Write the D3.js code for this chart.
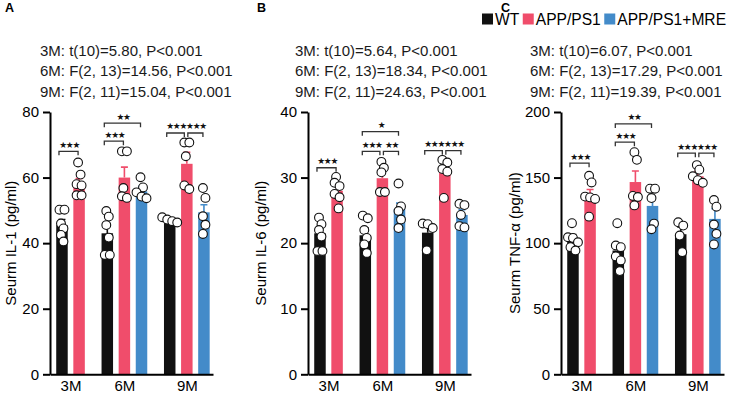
<!DOCTYPE html>
<html>
<head>
<meta charset="utf-8">
<script src="https://cdn.jsdelivr.net/npm/d3@7"></script>
<style>
  body { margin: 0; background: #fff; }
  svg { display: block; font-family: "Liberation Sans", Arial, sans-serif; }
</style>
</head>
<body>
<div id="chart"></div>
<script>
// categories
const groups = ["3M", "6M", "9M"];
const seriesNames = ["WT", "APP/PS1", "APP/PS1+MRE"];
// one entry per bar, in drawing order
const barGroup = ["3M", "3M", "6M", "6M", "6M", "9M", "9M", "9M"];
const barSeries = ["WT", "APP/PS1", "WT", "APP/PS1", "APP/PS1+MRE", "WT", "APP/PS1", "APP/PS1+MRE"];

// IL-1
const il1Mean = [45.5, 58.2, 43.0, 60.0, 55.8, 47.0, 64.2, 49.4];
const il1Sem = [1.7, 1.5, 2.2, 3.2, 1.5, 0.5, 3.5, 2.3];
const il1Dots = [
  [50.2, 50.2, 46.0, 44.5, 42.5, 40.5],
  [64.6, 60.9, 58.0, 57.6, 54.6, 54.6],
  [49.8, 48.1, 45.5, 41.7, 36.4, 36.4],
  [68.0, 68.0, 56.8, 54.3, 53.8],
  [60.1, 57.0, 55.5, 54.2, 53.7],
  [47.9, 47.2, 46.7, 46.3],
  [70.7, 70.7, 66.5, 57.6, 56.5],
  [56.8, 53.8, 48.2, 45.6, 42.8]
];
const il1Ticks = [0, 20, 40, 60, 80];
const il1Stats = ["3M: t(10)=5.80, P<0.001", "6M: F(2, 13)=14.56, P<0.001", "9M: F(2, 11)=15.04, P<0.001"];
const il1Sig = [
  { a: 0, b: 1, level: 68.0, label: "★★★" },
  { a: 2, b: 3, level: 71.1, label: "★★★" },
  { a: 2, b: 4, level: 76.6, label: "★★" },
  { a: 5, b: 6, level: 73.6, label: "★★★" },
  { a: 6, b: 7, level: 73.6, label: "★★★" }
];

// IL-6
const il6Mean = [21.5, 28.0, 21.2, 29.9, 25.2, 21.6, 30.9, 24.3];
const il6Sem = [0.9, 0.8, 1.1, 1.1, 0.9, 1.0, 0.8, 0.8];
const il6Dots = [
  [23.9, 22.9, 22.0, 21.0, 18.8, 18.8],
  [30.1, 29.2, 28.7, 27.5, 27.0, 25.3],
  [24.2, 23.8, 22.0, 20.8, 19.8, 18.5],
  [32.4, 31.5, 30.8, 27.8, 27.8],
  [29.1, 25.6, 24.9, 23.6, 22.3],
  [23.0, 22.9, 22.3, 18.9],
  [32.7, 32.3, 31.3, 30.9, 26.9],
  [26.0, 25.8, 24.3, 22.6, 22.4]
];
const il6Ticks = [0, 10, 20, 30, 40];
const il6Stats = ["3M: t(10)=5.64, P<0.001", "6M: F(2, 13)=18.34, P<0.001", "9M: F(2, 11)=24.63, P<0.001"];
const il6Sig = [
  { a: 0, b: 1, level: 31.5, label: "★★★" },
  { a: 2, b: 3, level: 34.0, label: "★★★" },
  { a: 3, b: 4, level: 34.0, label: "★★" },
  { a: 2, b: 4, level: 37.0, label: "★" },
  { a: 5, b: 6, level: 34.1, label: "★★★" },
  { a: 6, b: 7, level: 34.1, label: "★★★" }
];

// TNF-a
const tnfMean = [103.5, 135.5, 94.4, 146.6, 128.4, 106.8, 151.0, 118.5];
const tnfSem = [3.0, 5.4, 5.0, 8.4, 6.8, 5.6, 3.7, 7.8];
const tnfDots = [
  [115.2, 104.5, 104.0, 100.7, 96.9, 94.4],
  [151.4, 146.3, 135.5, 134.9, 133.7, 120.2],
  [115.2, 98.2, 96.9, 89.9, 86.8, 78.7],
  [169.4, 163.5, 136.0, 135.2, 128.8],
  [141.5, 141.5, 134.4, 114.9, 110.6],
  [115.9, 113.4, 105.8, 93.1],
  [159.5, 156.0, 151.0, 148.0, 146.0],
  [132.9, 127.8, 114.2, 107.1, 99.0]
];
const tnfTicks = [0, 50, 100, 150, 200];
const tnfStats = ["3M: t(10)=6.07, P<0.001", "6M: F(2, 13)=17.29, P<0.001", "9M: F(2, 11)=19.39, P<0.001"];
const tnfSig = [
  { a: 0, b: 1, level: 161.0, label: "★★★" },
  { a: 2, b: 3, level: 177.0, label: "★★★" },
  { a: 2, b: 4, level: 190.9, label: "★★" },
  { a: 5, b: 6, level: 168.6, label: "★★★" },
  { a: 6, b: 7, level: 168.6, label: "★★★" }
];

const width = 729, height = 393;
const font = '"Liberation Sans", Arial, sans-serif';

const svg = d3.select("#chart").append("svg")
  .attr("width", width)
  .attr("height", height);

const color = d3.scaleOrdinal()
  .domain(seriesNames)
  .range(["#111111", "#f04d6b", "#438bc9"]);

// slot index of each bar: one slot per bar, a gap between groups
const groupGap = 0.65;
let slot = -1, prevGroup = null;
const barSlot = barGroup.map(g => {
  slot += (prevGroup !== null && g !== prevGroup) ? 1 + groupGap : 1;
  prevGroup = g;
  return slot;
});
const groupSlot = groups.map(g => d3.mean(barSlot.filter((s, i) => barGroup[i] === g)));

const panels = [
  { letter: "A", letterX: 5, left: 50, statsX: 40, labelX: 16, ylabel: "Seurm IL-1 (pg/ml)",
    mean: il1Mean, sem: il1Sem, dots: il1Dots, ticks: il1Ticks, stats: il1Stats, sig: il1Sig },
  { letter: "B", letterX: 257, left: 308, statsX: 295, labelX: 266, ylabel: "Seurm IL-6 (pg/ml)",
    mean: il6Mean, sem: il6Sem, dots: il6Dots, ticks: il6Ticks, stats: il6Stats, sig: il6Sig },
  { letter: "C", letterX: 501, left: 561, statsX: 530, labelX: 520, ylabel: "Seurm TNF-α (pg/ml)",
    mean: tnfMean, sem: tnfSem, dots: tnfDots, ticks: tnfTicks, stats: tnfStats, sig: tnfSig }
];

// spread dots that sit at nearly the same height side by side
function spread(vals, y) {
  const order = vals.map((v, i) => i).sort((a, b) => vals[b] - vals[a]);
  const off = new Array(vals.length).fill(0);
  let cluster = [], single = 0;
  const flush = () => {
    if (cluster.length === 1) {
      off[cluster[0]] = (single++ % 2 ? 1.5 : -1);
    } else {
      cluster.forEach((k, j) => off[k] = (j - (cluster.length - 1) / 2) * 5);
    }
    cluster = [];
  };
  order.forEach(k => {
    const last = cluster[cluster.length - 1];
    if (cluster.length && Math.abs(y(vals[k]) - y(vals[last])) > 4.5) flush();
    cluster.push(k);
  });
  flush();
  return off;
}

function drawPanel(p) {
  const y = d3.scaleLinear()
    .domain([0, d3.max(p.ticks)])
    .range([374.3, 112]);
  const x = d3.scaleLinear()
    .domain([-0.7, 8.83])
    .range([p.left, p.left + 163]);
  const bw = 11.5;

  const g = svg.append("g");

  // bars
  g.selectAll("rect.bar")
    .data(p.mean)
    .join("rect")
      .attr("class", "bar")
      .attr("x", (d, i) => x(barSlot[i]) - bw / 2)
      .attr("y", d => y(d))
      .attr("width", bw)
      .attr("height", d => y(0) - y(d))
      .attr("fill", (d, i) => color(barSeries[i]));

  // error bars (upper SEM only)
  g.selectAll("path.err")
    .data(p.mean)
    .join("path")
      .attr("class", "err")
      .attr("d", (d, i) => {
        const cx = x(barSlot[i]), top = y(d + p.sem[i]);
        return `M${cx},${y(d)}V${top}M${cx - 3.5},${top}H${cx + 3.5}`;
      })
      .attr("stroke", (d, i) => color(barSeries[i]))
      .attr("stroke-width", 1.6)
      .attr("fill", "none");

  // individual points
  p.dots.forEach((vals, i) => {
    const off = spread(vals, y);
    g.selectAll(null)
      .data(vals)
      .join("circle")
        .attr("cx", (d, j) => x(barSlot[i]) + off[j])
        .attr("cy", d => y(d))
        .attr("r", 4.4)
        .attr("fill", "#fff")
        .attr("stroke", "#111")
        .attr("stroke-width", 1.1);
  });

  // y axis
  g.append("g")
    .attr("transform", `translate(${p.left},0)`)
    .call(d3.axisLeft(y).tickValues(p.ticks).tickSize(7).tickPadding(4).tickSizeOuter(0))
    .call(a => a.select(".domain").attr("stroke-width", 2).attr("stroke", "#000"))
    .call(a => a.selectAll(".tick line").attr("stroke-width", 2).attr("stroke", "#000"))
    .call(a => a.selectAll("text").attr("font-size", 15).attr("font-family", font).attr("fill", "#000"));

  // x axis
  g.append("g")
    .attr("transform", `translate(0,${y(0)})`)
    .call(d3.axisBottom(x).tickValues(groupSlot).tickFormat((d, i) => groups[i]).tickSize(0).tickPadding(6).tickSizeOuter(0))
    .call(a => a.select(".domain").attr("stroke-width", 2).attr("stroke", "#000"))
    .call(a => a.selectAll("text").attr("font-size", 15).attr("font-family", font).attr("fill", "#000"));

  // significance brackets
  p.sig.forEach(s => {
    let x1 = x(barSlot[s.a]) - 3, x2 = x(barSlot[s.b]) - 1;
    if (p.sig.some(t => t !== s && t.level === s.level && t.a === s.b)) x2 -= 1.5;
    if (p.sig.some(t => t !== s && t.level === s.level && t.b === s.a)) x1 = x(barSlot[s.a]) + 1;
    const yy = y(s.level);
    g.append("path")
      .attr("d", `M${x1},${yy + 4}V${yy}H${x2}V${yy + 4}`)
      .attr("fill", "none")
      .attr("stroke", "#333")
      .attr("stroke-width", 1.3);
    g.append("text")
      .attr("x", (x1 + x2) / 2 + 0.6)
      .attr("y", yy - 3.5)
      .attr("text-anchor", "middle")
      .attr("font-family", "DejaVu Sans")
      .attr("font-size", 8.8)
      .attr("letter-spacing", "-1.3px")
      .attr("fill", "#111")
      .text(s.label);
  });

  // y label
  g.append("text")
    .attr("transform", `translate(${p.labelX},${(y(0) + y(d3.max(p.ticks))) / 2}) rotate(-90)`)
    .attr("text-anchor", "middle")
    .attr("font-size", 15)
    .attr("fill", "#000")
    .text(p.ylabel);

  // stats lines
  g.selectAll("text.stat")
    .data(p.stats)
    .join("text")
      .attr("class", "stat")
      .attr("x", p.statsX)
      .attr("y", (d, i) => 56 + i * 20.3)
      .attr("font-size", 15)
      .attr("fill", "#1a1a1a")
      .text(d => d);

  // panel letter
  g.append("text")
    .attr("x", p.letterX)
    .attr("y", 12)
    .attr("font-size", 12.5)
    .attr("font-weight", "bold")
    .attr("fill", "#000")
    .text(p.letter);
}

panels.forEach(drawPanel);

// legend
let lx = 482;
const legend = svg.append("g");
seriesNames.forEach(s => {
  legend.append("rect")
    .attr("x", lx)
    .attr("y", 13.5)
    .attr("width", 11)
    .attr("height", 11)
    .attr("fill", color(s));
  const t = legend.append("text")
    .attr("x", lx + 13)
    .attr("y", 25)
    .attr("font-size", 15.6)
    .attr("fill", "#000")
    .text(s);
  lx += 13 + t.node().getComputedTextLength() + 3.5;
});
</script>
</body>
</html>
